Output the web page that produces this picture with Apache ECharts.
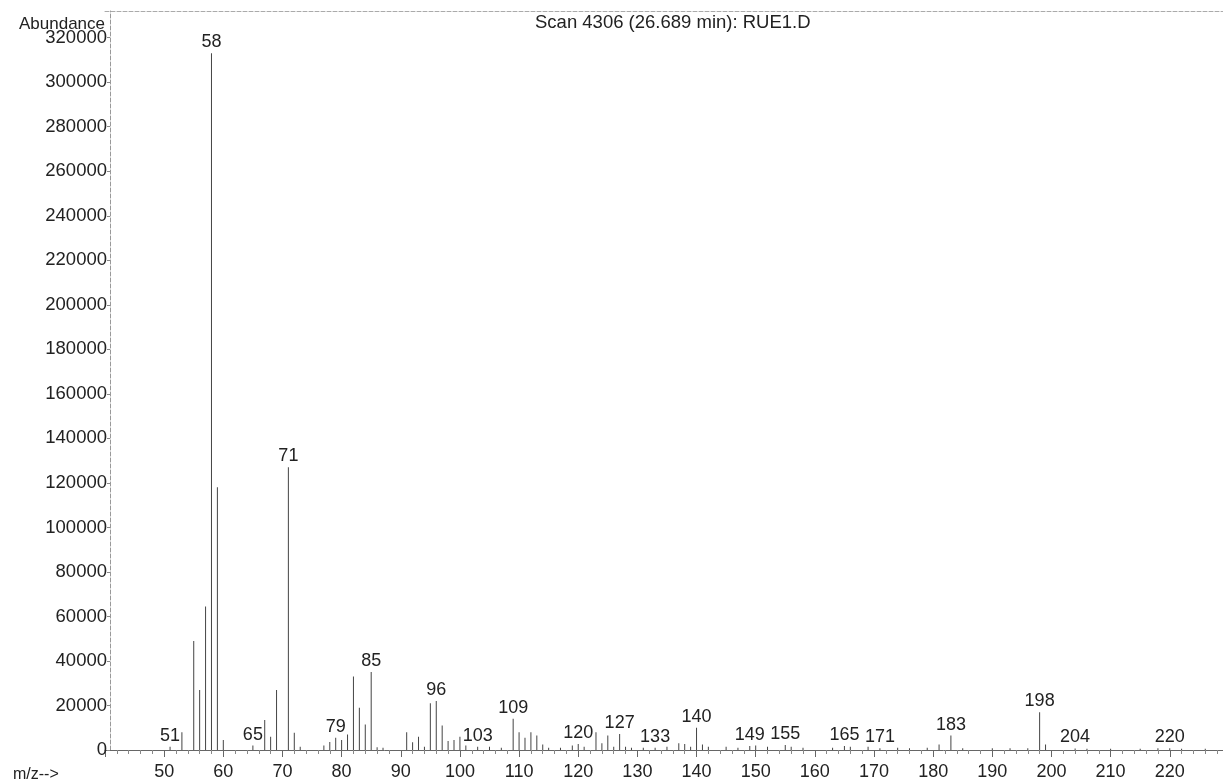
<!DOCTYPE html>
<html>
<head>
<meta charset="utf-8">
<script src="https://cdn.jsdelivr.net/npm/echarts@6/dist/echarts.min.js"></script>
<style>
  html, body { margin: 0; padding: 0; background: #fff; }
  #chart { width: 1223px; height: 783px; }
</style>
</head>
<body>
<div id="chart"></div>
<script>
// m/z of each peak and its abundance
const mz = [
  51, 53, 55, 56, 57, 58, 59, 60, 65, 67, 68, 69, 71, 72, 73, 77, 78, 79, 80, 81,
  82, 83, 84, 85, 86, 87, 91, 92, 93, 94, 95, 96, 97, 98, 99, 100, 101, 103, 105, 107,
  109, 110, 111, 112, 113, 114, 115, 117, 119, 120, 121, 123, 124, 125, 126, 127, 128, 129, 131, 133,
  135, 137, 138, 139, 140, 141, 142, 145, 147, 149, 150, 152, 155, 156, 158, 163, 165, 166, 169, 171,
  174, 176, 179, 181, 183, 185, 190, 193, 196, 198, 199, 204, 206, 210, 215, 218, 220, 222, 226
];
const abundance = [
  1500, 8000, 49000, 27000, 64500, 313000, 118000, 4500, 2000, 13500, 6000, 27000, 127000, 7700, 1500, 2000, 3600, 5500, 4500, 7000,
  33000, 19000, 11500, 35000, 1200, 1000, 8000, 3500, 6000, 1500, 21000, 22000, 11000, 4000, 4500, 6000, 2000, 1500, 1500, 1000,
  14000, 8000, 5500, 8000, 6500, 2500, 1000, 1000, 2000, 2700, 1500, 8000, 3000, 6500, 1500, 7200, 1500, 1000, 1000, 1000,
  1500, 3000, 2700, 1500, 10000, 2500, 1500, 1500, 1000, 1800, 2000, 1500, 2200, 1500, 1000, 1000, 1800, 1500, 1500, 800,
  1000, 800, 1000, 2500, 6500, 800, 800, 800, 800, 17000, 2500, 700, 600, 600, 600, 800, 800, 600, 600
];
// peaks that carry an m/z label
const labeled = [51, 58, 65, 71, 79, 85, 96, 103, 109, 120, 127, 133, 140, 149, 155, 165, 171, 183, 198, 204, 220];

const FONT = "'Liberation Sans', Arial, sans-serif";
const chart = echarts.init(document.getElementById('chart'), null, { renderer: 'canvas' });

const peaks = mz.map((m, i) => ({
  value: [m, abundance[i]],
  label: { show: labeled.includes(m) }
}));

chart.setOption({
  animation: false,
  backgroundColor: '#fff',
  textStyle: { fontFamily: FONT, color: '#222' },
  title: [
    { text: 'Scan 4306 (26.689 min): RUE1.D', left: 530, top: 8,
      textStyle: { fontFamily: FONT, fontSize: 18.5, fontWeight: 'normal', color: '#222' } },
    { text: 'Abundance', left: 14, top: 11,
      textStyle: { fontFamily: FONT, fontSize: 17, fontWeight: 'normal', color: '#222' } },
    { text: 'm/z-->', left: 8, top: 762,
      textStyle: { fontFamily: FONT, fontSize: 16, fontWeight: 'normal', color: '#222' } }
  ],
  grid: { left: 105, right: 0, top: 11, bottom: 33 },
  xAxis: [
    {
      type: 'value',
      min: 40,
      max: 229,
      interval: 10,
      axisLine: { show: true, lineStyle: { color: '#666', width: 1 } },
      axisTick: { show: true, length: 7, lineStyle: { color: '#666' } },
      minorTick: { show: true, splitNumber: 5, length: 4, lineStyle: { color: '#888' } },
      axisLabel: {
        fontSize: 18, color: '#222', margin: 13,
        showMinLabel: false, showMaxLabel: false
      },
      splitLine: { show: false }
    },
    {
      type: 'value',
      position: 'top',
      min: 40,
      max: 229,
      axisLine: { show: true, lineStyle: { color: '#aaa', type: 'dashed' } },
      axisTick: { show: false },
      axisLabel: { show: false },
      splitLine: { show: false }
    }
  ],
  yAxis: {
    type: 'value',
    min: 0,
    max: 332000,
    interval: 20000,
    offset: -5,
    axisLine: { show: true, lineStyle: { color: '#999', type: 'dashed' } },
    axisTick: { show: true, length: 3, lineStyle: { color: '#888' } },
    axisLabel: {
      fontSize: 18.5, color: '#222', margin: 3, showMaxLabel: false,
      formatter: (v) => String(v)
    },
    splitLine: { show: false }
  },
  series: [
    {
      type: 'bar',
      xAxisIndex: 0,
      barWidth: 1,
      itemStyle: { color: '#444' },
      label: {
        position: 'top',
        distance: 2,
        fontSize: 18,
        color: '#222',
        fontFamily: FONT,
        formatter: (p) => p.value[0]
      },
      data: peaks
    }
  ]
});
</script>
</body>
</html>
